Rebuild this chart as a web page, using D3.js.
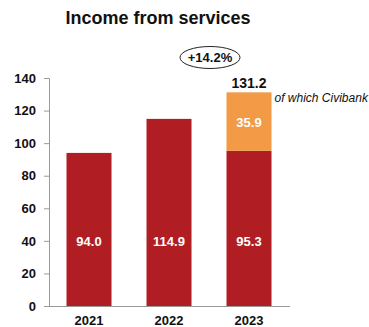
<!DOCTYPE html>
<html>
<head>
<meta charset="utf-8">
<script src="https://cdn.jsdelivr.net/npm/d3@7"></script>
<style>
  html, body { margin: 0; padding: 0; background: #fff; }
  svg { display: block; font-family: "Liberation Sans", Arial, sans-serif; }
</style>
</head>
<body>
<svg id="chart" width="369" height="327"></svg>
<script>
// Income from services, by year (base amount plus Civibank contribution)
const years = ["2021", "2022", "2023"];
const baseValues = [94.0, 114.9, 95.3];
const civibankValues = [0, 0, 35.9];
const totalLabels = [null, null, "131.2"];
const yTicks = [0, 20, 40, 60, 80, 100, 120, 140];
const growthLabel = "+14.2%";
const civibankNote = "of which Civibank";
const titleText = "Income from services";

const svg = d3.select("#chart");
const RED = "#B01E24";
const ORANGE = "#F29A45";
const AXIS = "#9a9a9a";

const x = d3.scaleBand().domain(years).range([49, 289]).paddingInner(0.4375).paddingOuter(0.21875);
const y = d3.scaleLinear().domain([0, 140]).range([306, 78]);

// Title
svg.append("text")
  .attr("x", 158).attr("y", 24)
  .attr("text-anchor", "middle")
  .attr("font-size", 18).attr("font-weight", "bold").attr("fill", "#111")
  .text(titleText);

// Y axis
const yAxis = d3.axisLeft(y).tickValues(yTicks).tickSize(5).tickPadding(8).tickFormat(d3.format("d"));
const gy = svg.append("g").attr("transform", "translate(49,0)").call(yAxis);
gy.select(".domain").attr("stroke", AXIS).attr("d", "M-5,78.5H0.5V306.5");
gy.selectAll(".tick line").attr("stroke", AXIS);
gy.selectAll(".tick text").attr("font-size", 13).attr("font-weight", "bold").attr("fill", "#111")
  .attr("font-family", "Liberation Sans, Arial, sans-serif");

// Baseline
svg.append("line")
  .attr("x1", 44).attr("x2", 290).attr("y1", y(0) + 0.5).attr("y2", y(0) + 0.5)
  .attr("stroke", AXIS).attr("stroke-width", 1);

// Base bars
svg.selectAll("rect.base").data(years).join("rect")
  .attr("class", "base")
  .attr("x", d => x(d)).attr("width", x.bandwidth())
  .attr("y", (d, i) => y(baseValues[i]))
  .attr("height", (d, i) => y(0) - y(baseValues[i]))
  .attr("fill", RED);

// Civibank segments
svg.selectAll("rect.civi").data(years.filter((d, i) => civibankValues[i] > 0)).join("rect")
  .attr("class", "civi")
  .attr("x", d => x(d)).attr("width", x.bandwidth())
  .attr("y", d => { const i = years.indexOf(d); return y(baseValues[i] + civibankValues[i]); })
  .attr("height", d => { const i = years.indexOf(d); return y(baseValues[i]) - y(baseValues[i] + civibankValues[i]); })
  .attr("fill", ORANGE);

// Value labels inside base bars
svg.selectAll("text.base").data(years).join("text")
  .attr("class", "base")
  .attr("x", d => x(d) + x.bandwidth() / 2)
  .attr("y", y(40) + 5)
  .attr("text-anchor", "middle")
  .attr("font-size", 13).attr("font-weight", "bold").attr("fill", "#fff")
  .text((d, i) => baseValues[i].toFixed(1));

// Value labels inside Civibank segments
svg.selectAll("text.civi").data(years.filter((d, i) => civibankValues[i] > 0)).join("text")
  .attr("class", "civi")
  .attr("x", d => x(d) + x.bandwidth() / 2)
  .attr("y", d => { const i = years.indexOf(d); return y(baseValues[i] + civibankValues[i] / 2) + 5; })
  .attr("text-anchor", "middle")
  .attr("font-size", 13).attr("font-weight", "bold").attr("fill", "#fff")
  .text(d => civibankValues[years.indexOf(d)].toFixed(1));

// Totals above stacked bars
svg.selectAll("text.total").data(years.filter((d, i) => totalLabels[i])).join("text")
  .attr("class", "total")
  .attr("x", d => x(d) + x.bandwidth() / 2)
  .attr("y", d => { const i = years.indexOf(d); return y(baseValues[i] + civibankValues[i]) - 4; })
  .attr("text-anchor", "middle")
  .attr("font-size", 14).attr("font-weight", "bold").attr("fill", "#111")
  .text(d => totalLabels[years.indexOf(d)]);

// Civibank note
svg.append("text")
  .attr("x", x("2023") + x.bandwidth() + 3)
  .attr("y", 102)
  .attr("font-size", 12).attr("font-style", "italic").attr("fill", "#111")
  .text(civibankNote);

// Growth bubble
svg.append("ellipse")
  .attr("cx", 210).attr("cy", 57.5).attr("rx", 30).attr("ry", 11)
  .attr("fill", "none").attr("stroke", "#222").attr("stroke-width", 1);
svg.append("text")
  .attr("x", 210).attr("y", 62)
  .attr("text-anchor", "middle")
  .attr("font-size", 13).attr("font-weight", "bold").attr("fill", "#111")
  .text(growthLabel);

// Year labels
svg.selectAll("text.year").data(years).join("text")
  .attr("class", "year")
  .attr("x", d => x(d) + x.bandwidth() / 2)
  .attr("y", 325)
  .attr("text-anchor", "middle")
  .attr("font-size", 13).attr("font-weight", "bold").attr("fill", "#111")
  .text(d => d);
</script>
</body>
</html>
